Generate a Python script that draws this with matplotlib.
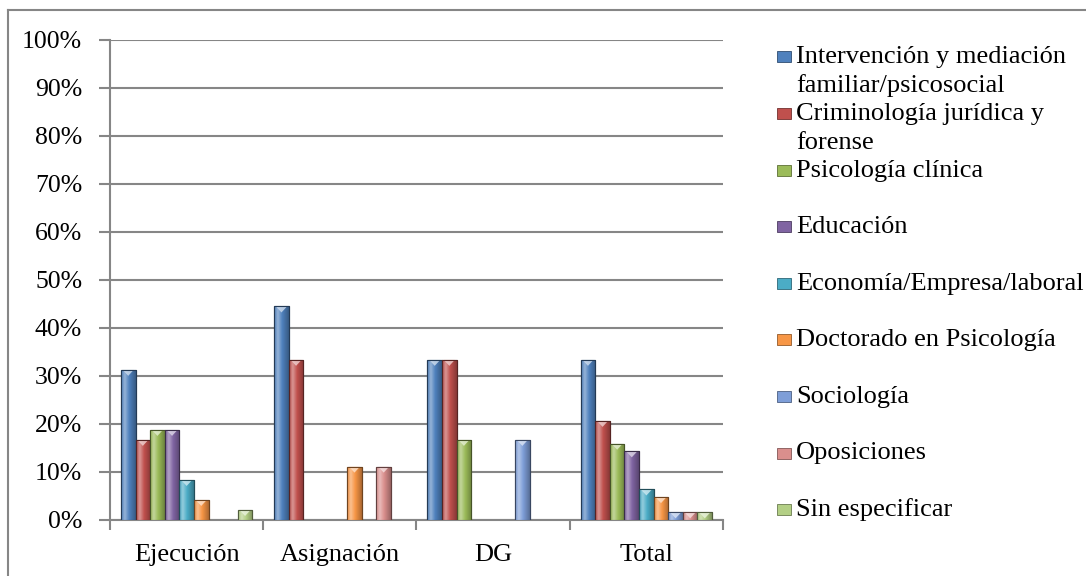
import numpy as np
import matplotlib
matplotlib.use("Agg")
import matplotlib.pyplot as plt
from matplotlib.colors import to_rgb, LinearSegmentedColormap
from matplotlib.patches import Rectangle, Polygon
from matplotlib.lines import Line2D

categories = ["Ejecución", "Asignación", "DG", "Total"]
series_names = [
    "Intervención y mediación\nfamiliar/psicosocial",
    "Criminología jurídica y\nforense",
    "Psicología clínica",
    "Educación",
    "Economía/Empresa/laboral",
    "Doctorado en Psicología",
    "Sociología",
    "Oposiciones",
    "Sin especificar",
]
series_colors = ["#4F81BD", "#C0504D", "#9BBB59", "#8064A2", "#4BACC6",
                 "#F79646", "#7E9ED8", "#DA8F8D", "#B3CF85"]

intervencion = [31.25, 44.44, 33.33, 33.33]
criminologia = [16.67, 33.33, 33.33, 20.63]
psic_clinica = [18.75, 0, 16.67, 15.87]
educacion = [18.75, 0, 0, 14.29]
economia = [8.33, 0, 0, 6.35]
doctorado = [4.17, 11.11, 0, 4.76]
sociologia = [0, 0, 16.67, 1.59]
oposiciones = [0, 11.11, 0, 1.59]
sin_especificar = [2.08, 0, 0, 1.59]
values = [intervencion, criminologia, psic_clinica, educacion, economia,
          doctorado, sociologia, oposiciones, sin_especificar]

yticks = list(range(0, 101, 10))
ytick_labels = [f"{t}%" for t in yticks]

FONT = "Liberation Serif"
FS = 19
FSY = 18.5
GRID = "#868686"

W, H = 1086, 576
fig = plt.figure(figsize=(W / 100, H / 100), dpi=100)
ax_left, ax_right, ax_top, ax_bot = 110, 723, 39.5, 520
ax = fig.add_axes([ax_left / W, 1 - ax_bot / H, (ax_right - ax_left) / W,
                   (ax_bot - ax_top) / H])

n = len(values)
w = 0.0953
x = np.arange(len(categories))

def lighten(c, f):
    c = np.array(to_rgb(c))
    return tuple(c + (1 - c) * f)

def darken(c, f):
    c = np.array(to_rgb(c))
    return tuple(c * (1 - f))

ax.set_xlim(-0.5, len(categories) - 0.5)
ax.set_ylim(0, 100)
px_per_unit = (ax_bot - ax_top) / 100.0

for j, (vals, col) in enumerate(zip(values, series_colors)):
    cmap = LinearSegmentedColormap.from_list(
        f"g{j}", [(0.0, darken(col, 0.05)), (0.25, lighten(col, 0.4)),
                  (0.55, to_rgb(col)), (1.0, darken(col, 0.3))])
    grad = np.linspace(0, 1, 64).reshape(1, -1)
    pos = x + (j - (n - 1) / 2) * w
    vals = np.array(vals, dtype=float)
    mask = vals > 0
    bars = ax.bar(pos[mask], vals[mask], width=w, color=col,
                  edgecolor=darken(col, 0.55), linewidth=0.8, zorder=3)
    for rect in bars:
        x0, h = rect.get_x(), rect.get_height()
        im = ax.imshow(grad, extent=[x0, x0 + w, 0, h], aspect="auto",
                       cmap=cmap, zorder=3.1, interpolation="bilinear")
        im.set_clip_path(rect)
        tri_h = min(6.0 / px_per_unit, h)
        tri = Polygon([[x0 + 0.12 * w, h], [x0 + 0.88 * w, h],
                       [x0 + 0.5 * w, h - tri_h]], closed=True,
                      facecolor=lighten(col, 0.7), edgecolor="none",
                      alpha=0.85, zorder=3.2)
        ax.add_patch(tri)
        ax.add_patch(Rectangle((x0, 0), w, h, fill=False,
                               edgecolor=darken(col, 0.55), linewidth=0.8,
                               zorder=3.3))

ax.set_xlim(-0.5, len(categories) - 0.5)
ax.set_ylim(0, 100)

ax.set_yticks(yticks)
ax.set_yticklabels(ytick_labels, fontfamily=FONT, fontsize=FSY)
ax.set_xticks(x)
ax.set_xticklabels(categories, fontfamily=FONT, fontsize=FS)
ax.set_xticks(np.arange(len(categories) + 1) - 0.5, minor=True)
ax.tick_params(axis="x", which="major", length=0, pad=17)
ax.tick_params(axis="x", which="minor", length=7, width=1.5, color=GRID)
ax.tick_params(axis="y", length=8, width=1.5, color=GRID, pad=12)
ax.grid(axis="y", color=GRID, linewidth=1.5, zorder=1)
ax.set_axisbelow(True)
for s in ["top", "right"]:
    ax.spines[s].set_visible(False)
for s in ["left", "bottom"]:
    ax.spines[s].set_color(GRID)
    ax.spines[s].set_linewidth(1.5)

# outer chart border
fig.add_artist(Line2D([8 / W, 8 / W], [0, 1 - 10 / H], color=GRID, lw=1.5,
                      transform=fig.transFigure))
fig.add_artist(Line2D([8 / W, 1], [1 - 10 / H, 1 - 10 / H], color=GRID,
                      lw=1.5, transform=fig.transFigure))

# legend
base0, step, line_step = 63.3, 56.6, 29.0
for i, (name, col) in enumerate(zip(series_names, series_colors)):
    yb = base0 + i * step
    fig.add_artist(Rectangle((777 / W, 1 - (yb - 1) / H), 14 / W, 11 / H,
                             transform=fig.transFigure, facecolor=col,
                             edgecolor=darken(col, 0.4), linewidth=0.6))
    for k, line in enumerate(name.split("\n")):
        fig.text(796 / W, 1 - (yb + k * line_step) / H, line,
                 fontfamily=FONT, fontsize=FS, va="baseline", ha="left")

fig.savefig("out.png", dpi=100)
